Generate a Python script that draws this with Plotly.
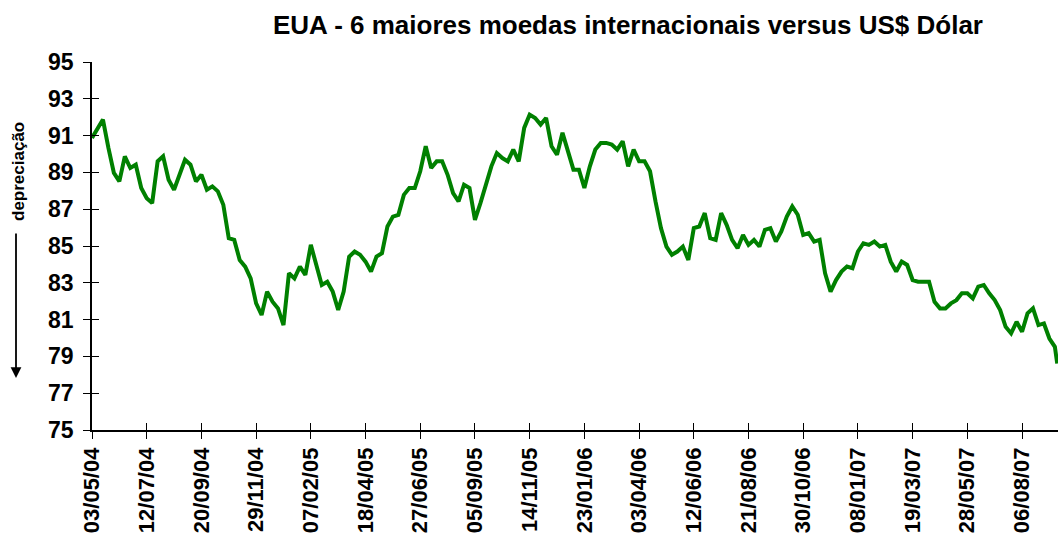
import pandas as pd
import plotly.graph_objects as go

title_text = "EUA - 6 maiores moedas internacionais versus US$ Dólar"
start_date = "2004-05-03"
end_date = "2007-09-20"
axis_end = "2007-09-21"

# weekly readings (every 7 days from 03/05/04)
dxy_weekly = [
    90.87, 91.42, 91.87, 90.33, 88.97, 88.51, 89.87, 89.24, 89.42, 88.15, 87.60, 87.33,
    89.60, 89.87, 88.60, 88.06, 88.96, 89.69, 89.42, 88.51, 88.87, 88.06, 88.24, 87.97,
    87.24, 85.42, 85.33, 84.24, 83.88, 83.24, 81.88, 81.25, 82.52, 81.97, 81.61, 80.70,
    83.52, 83.24, 83.88, 83.43, 85.06, 83.88, 82.88, 83.06, 82.52, 81.52, 82.52, 84.42,
    84.70, 84.52, 84.15, 83.61, 84.42, 84.61, 86.06, 86.60, 86.69, 87.78, 88.15, 88.15,
    89.06, 90.42, 89.24, 89.60, 89.60, 88.87, 87.87, 87.42, 88.33, 88.15, 86.42, 87.33,
    88.33, 89.33, 90.05, 89.78, 89.60, 90.24, 89.60, 91.42, 92.14, 91.96, 91.60, 91.96,
    90.42, 89.96, 91.15, 90.15, 89.15, 89.15, 88.15, 89.33, 90.24, 90.60, 90.60, 90.51,
    90.24, 90.69, 89.33, 90.24, 89.60, 89.60, 89.06, 87.42, 85.97, 84.97, 84.52, 84.70,
    84.97, 84.24, 85.97, 86.06, 86.79, 85.42, 85.33, 86.79, 86.15, 85.33, 84.88, 85.60,
    85.06, 85.33, 84.97, 85.88, 85.97, 85.24, 85.79, 86.60, 87.15, 86.70, 85.60, 85.70,
    85.24, 85.33, 83.52, 82.52, 83.15, 83.61, 83.88, 83.79, 84.70, 85.15, 85.06, 85.24,
    84.97, 85.06, 84.15, 83.61, 84.15, 83.97, 83.15, 83.06, 83.06, 83.06, 81.97, 81.61,
    81.61, 81.88, 82.06, 82.43, 82.43, 82.15, 82.79, 82.88, 82.43, 82.06, 81.52, 80.61,
    80.25, 80.88, 80.34, 81.34, 81.61, 80.70, 80.79, 79.97, 79.52,
]
dxy_last = 78.61

y_ticks = [75, 77, 79, 81, 83, 85, 87, 89, 91, 93, 95]

dates = list(pd.date_range(start_date, periods=len(dxy_weekly), freq="7D")) + [pd.Timestamp(end_date)]
values = dxy_weekly + [dxy_last]

FONT = "Liberation Sans, Arial, sans-serif"
DAY_MS = 86400000

fig = go.Figure()
fig.add_trace(go.Scatter(
    x=dates, y=values, mode="lines",
    line=dict(color="#008000", width=4),
    hoverinfo="x+y", showlegend=False,
))
# helper trace for the inner half of the crossing tick marks
fig.add_trace(go.Scatter(
    x=[dates[0]], y=[values[0]], xaxis="x2", yaxis="y2", mode="markers",
    marker=dict(opacity=0), hoverinfo="skip", showlegend=False,
))

common_x = dict(type="date", range=[start_date, axis_end], tick0=start_date,
                dtick=70 * DAY_MS, showgrid=False, zeroline=False)
common_y = dict(range=[75, 95], tickvals=y_ticks, showgrid=False, zeroline=False)

fig.update_layout(
    width=1058, height=538,
    margin=dict(l=92, r=0, t=62, b=108),
    paper_bgcolor="white", plot_bgcolor="white",
    font=dict(family=FONT, color="black"),
    title=dict(text="<b>" + title_text + "</b>", x=628 / 1058, xref="container",
               xanchor="center", y=1 - 25 / 538, yanchor="middle",
               font=dict(size=26, family=FONT, color="black")),
    xaxis=dict(**common_x, tickformat="%d/%m/%y", tickangle=-90,
               ticks="outside", ticklen=7, tickwidth=1, tickcolor="black",
               showline=True, linecolor="black", linewidth=1.5,
               tickfont=dict(size=22, family=FONT, color="black", weight="bold")),
    yaxis=dict(**common_y, ticks="outside", ticklen=7, tickwidth=1, tickcolor="black",
               showline=True, linecolor="black", linewidth=1.5,
               ticklabelstandoff=5,
               tickfont=dict(size=23, family=FONT, color="black", weight="bold")),
    xaxis2=dict(**common_x, overlaying="x", anchor="y2", side="bottom",
                ticks="inside", ticklen=7, tickwidth=1, tickcolor="black",
                showticklabels=False, showline=False),
    yaxis2=dict(**common_y, overlaying="y", anchor="x2", side="left",
                ticks="inside", ticklen=7, tickwidth=1, tickcolor="black",
                showticklabels=False, showline=False),
    annotations=[
        dict(text="<b>depreciação</b>", xref="paper", yref="paper",
             x=(18 - 92) / 966, y=(430 - 172) / 368, textangle=-90,
             showarrow=False, xanchor="center", yanchor="middle",
             font=dict(size=17, family=FONT, color="black")),
        dict(text="", xref="paper", yref="paper",
             x=(16 - 92) / 966, y=(430 - 378) / 368,
             ax=0, ay=-146, axref="pixel", ayref="pixel",
             showarrow=True, arrowhead=2, arrowsize=1.2, arrowwidth=1.8,
             arrowcolor="black"),
    ],
)

fig.write_html("out.html", config={"displayModeBar": False},
               post_script="document.body.style.margin='0';")
